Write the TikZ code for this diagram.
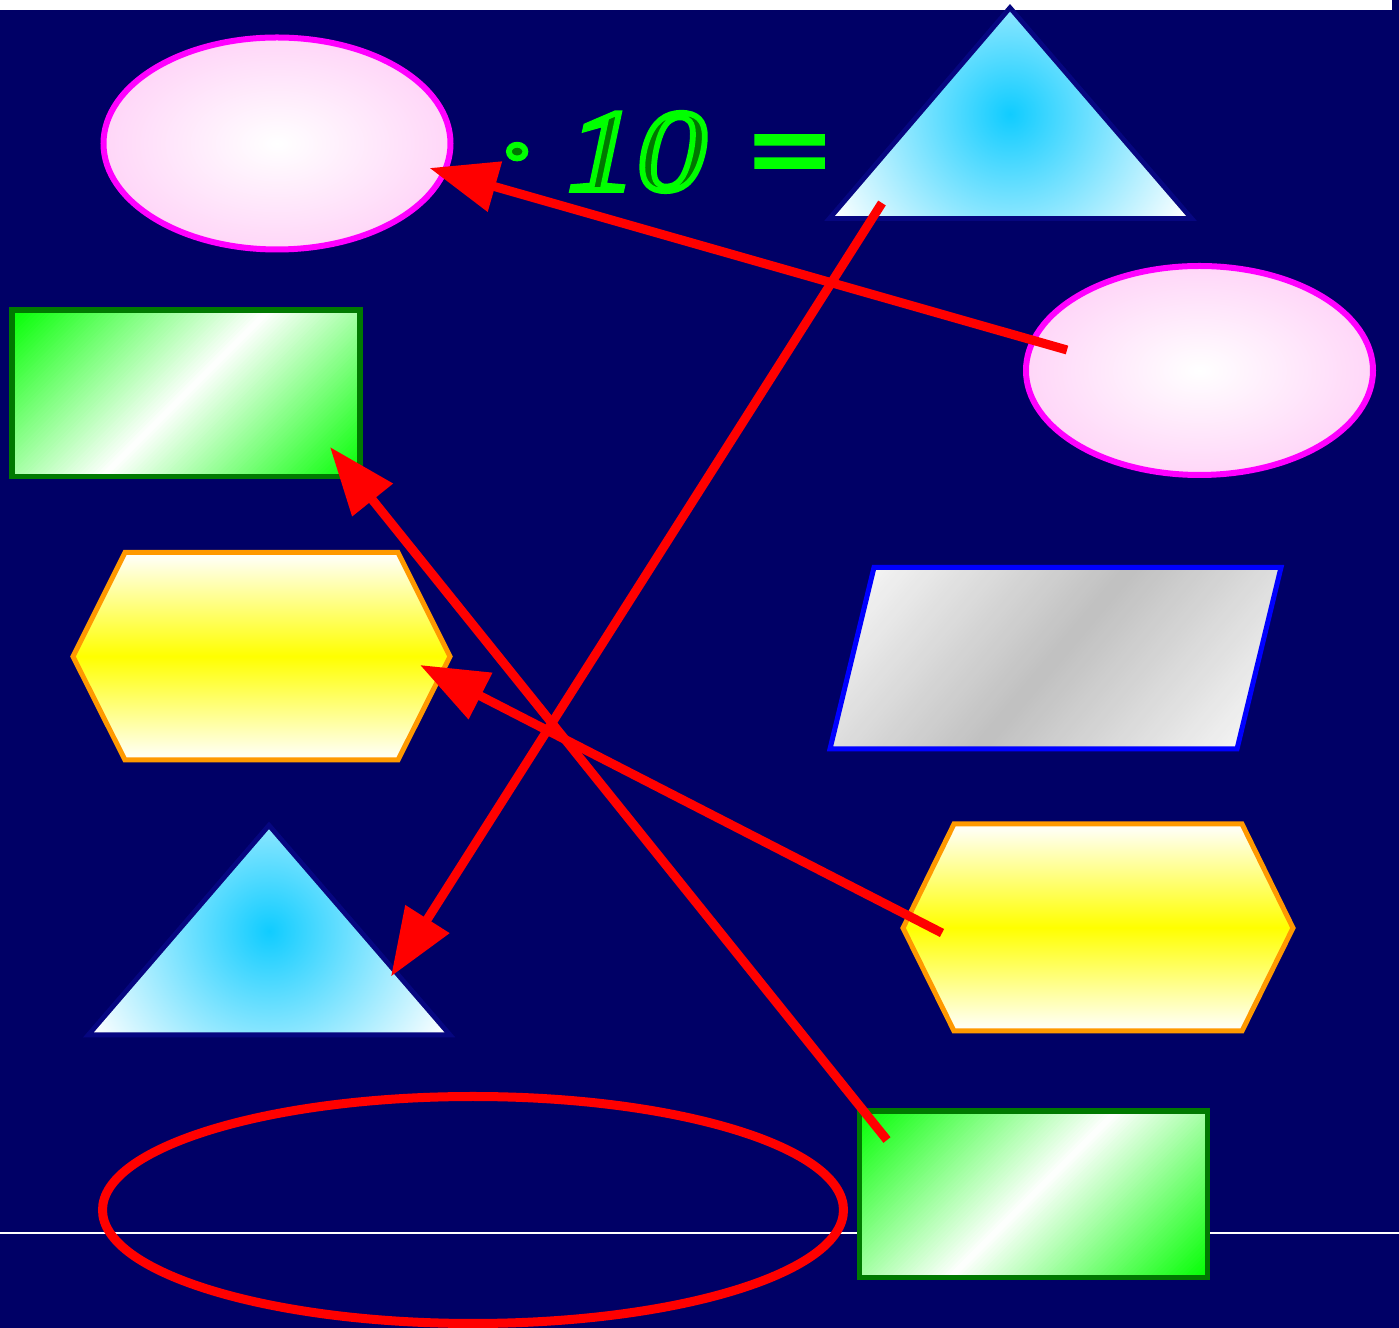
\documentclass[tikz,border=0pt]{standalone}
\usepackage{fontspec}
\setmainfont{Liberation Serif}
\newfontfamily\eqfont{Liberation Serif}[FakeStretch=1.2, FakeBold=5]
\usetikzlibrary{arrows.meta}
\definecolor{bgnavy}{RGB}{0,0,102}
\definecolor{pinkedge}{RGB}{255,214,248}
\definecolor{magentaline}{RGB}{255,0,255}
\definecolor{tristroke}{RGB}{6,6,128}
\definecolor{cyancore}{RGB}{16,204,255}
\definecolor{greenfill}{RGB}{0,255,0}
\definecolor{greenline}{RGB}{0,122,0}
\definecolor{hexline}{RGB}{255,153,0}
\definecolor{grayedge}{RGB}{244,244,244}
\definecolor{graymid}{RGB}{192,192,192}
\tikzset{
  pinkellipse/.style={draw=magentaline, line width=0.06cm, inner color=white, outer color=pinkedge},
  tristrokestyle/.style={draw=tristroke, line width=0.10cm, miter limit=10},
  hexfill/.style={top color=white, bottom color=white, middle color=yellow},
  hexstroke/.style={draw=hexline, line width=0.05cm},
  greenstroke/.style={draw=greenline, line width=0.055cm},
  redarrow/.style={draw=red, line width=0.09cm, -{Triangle[length=0.68cm,width=0.5cm]}},
  eqtext/.style={anchor=base west, inner sep=0pt, font=\fontsize{33}{40}\selectfont\eqfont\itshape}
}
% diagonal linear gradient made of thin bands:
% #1 cx, #2 cy, #3 angle of the iso-lines, #4 half range, #5 edge colour, #6 middle colour, #7 half length of bands
\newcommand{\diagbands}[7]{%
  \foreach \k in {0,...,119} {%
    \pgfmathsetmacro\dgA{-#4+\k/60*#4}%
    \pgfmathsetmacro\dgB{\dgA+#4/60+1}%
    \pgfmathsetmacro\dgP{min(100,abs(\dgA+#4/120)/#4*100)}%
    \pgfmathsetmacro\dgS{sin(#3)}%
    \pgfmathsetmacro\dgC{cos(#3)}%
    \fill[#5!\dgP!#6] ({#1+\dgS*\dgA+\dgC*#7},{#2+\dgC*\dgA-\dgS*#7}) -- ({#1+\dgS*\dgB+\dgC*#7},{#2+\dgC*\dgB-\dgS*#7}) -- ({#1+\dgS*\dgB-\dgC*#7},{#2+\dgC*\dgB+\dgS*#7}) -- ({#1+\dgS*\dgA-\dgC*#7},{#2+\dgC*\dgA+\dgS*#7}) -- cycle;
  }%
}
\begin{document}
\begin{tikzpicture}[x=0.01cm,y=-0.01cm]
\useasboundingbox (0,0) rectangle (1399,1328);
\fill[bgnavy] (0,0) rectangle (1399,1328);
\fill[white] (0,0) rectangle (1392,10);
\draw[white, line width=0.02cm] (0,1233) -- (1399,1233);

% pink ellipses
\shade[pinkellipse] (277,143.5) ellipse [x radius=173.5, y radius=106];
\shade[pinkellipse] (1199.5,370.5) ellipse [x radius=173.5, y radius=104.5];

% triangles
\draw[tristrokestyle] (1010,11.7) -- (835,216) -- (1186,216) -- cycle;
\begin{scope}
  \clip (1010,11.7) -- (835,216) -- (1186,216) -- cycle;
  \shade[inner color=cyancore, outer color=white] (1010,114) circle (204);
\end{scope}
\draw[tristrokestyle] (269,829.3) -- (94,1032.3) -- (444.3,1032.3) -- cycle;
\begin{scope}
  \clip (269,829.3) -- (94,1032.3) -- (444.3,1032.3) -- cycle;
  \shade[inner color=cyancore, outer color=white] (269,931) circle (204);
\end{scope}

% green rectangles
\begin{scope}
  \clip (12,310) rectangle (360,476.5);
  \diagbands{186}{393.25}{45}{183}{greenfill}{white}{300}
\end{scope}
\draw[greenstroke] (12,310) rectangle (360,476.5);
\begin{scope}
  \clip (859.5,1111) rectangle (1207.5,1277.5);
  \diagbands{1033.5}{1194.25}{45}{183}{greenfill}{white}{300}
\end{scope}
\draw[greenstroke] (859.5,1111) rectangle (1207.5,1277.5);

% hexagons
\shade[hexfill] (125,552.5) -- (398,552.5) -- (450,656.5) -- (398,760) -- (125,760) -- (73,656.5) -- cycle;
\draw[hexstroke] (125,552.5) -- (398,552.5) -- (450,656.5) -- (398,760) -- (125,760) -- (73,656.5) -- cycle;
\shade[hexfill] (954,824) -- (1242,824) -- (1293,928) -- (1242,1031) -- (954,1031) -- (903,928) -- cycle;
\draw[hexstroke] (954,824) -- (1242,824) -- (1293,928) -- (1242,1031) -- (954,1031) -- (903,928) -- cycle;

% parallelogram
\begin{scope}
  \clip (874,567.5) -- (1281,567.5) -- (1237,749) -- (830,749) -- cycle;
  \diagbands{1055.5}{658.25}{50}{199}{grayedge}{graymid}{320}
\end{scope}
\draw[draw=blue, line width=0.05cm] (874,567.5) -- (1281,567.5) -- (1237,749) -- (830,749) -- cycle;

% red ellipse
\draw[red, line width=0.09cm] (473,1210) ellipse [x radius=370.5, y radius=113.5];

% outlined text: dark green fill, bright green stroke
\node[eqtext] (eq) at (497,190) {\special{pdf:bc [0 0.47 0] [0 1 0]}· 10 =\special{pdf:ec}};

% arrows
\coordinate (a1s) at (1067,350);  \coordinate (a1t) at (429.5,168);
\coordinate (a2s) at (882,203);   \coordinate (a2t) at (391,976.5);
\coordinate (a3s) at (887,1140);  \coordinate (a3t) at (330,447);
\coordinate (a4s) at (942,933);   \coordinate (a4t) at (420,665);
\draw[redarrow] (a1s) -- (a1t);
\draw[redarrow] (a2s) -- (a2t);
\draw[redarrow] (a3s) -- (a3t);
\draw[redarrow] (a4s) -- (a4t);
\end{tikzpicture}
\end{document}
